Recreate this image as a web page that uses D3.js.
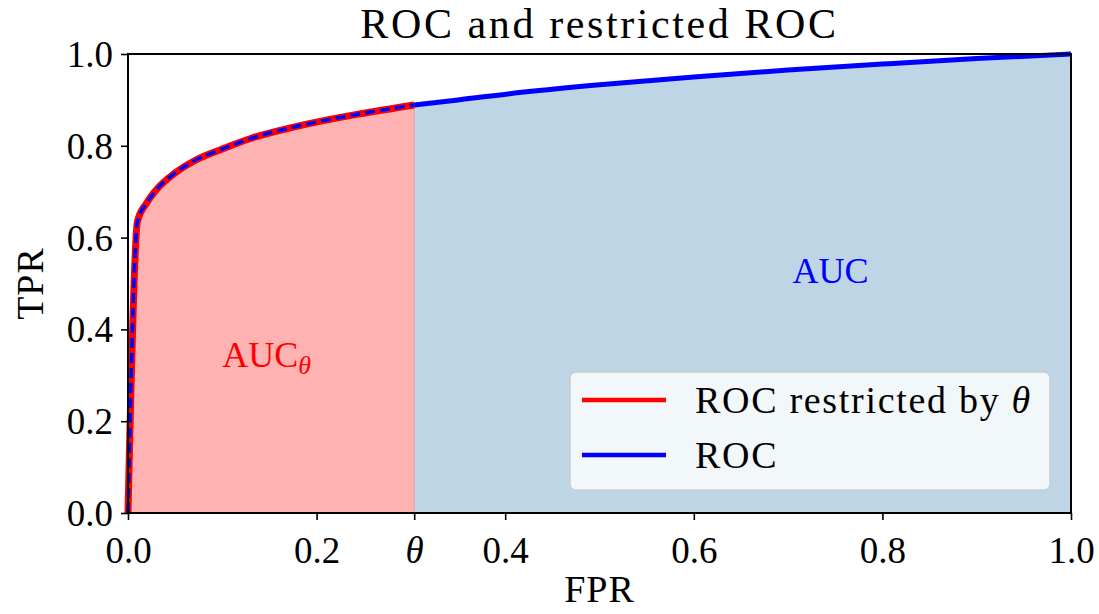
<!DOCTYPE html>
<html>
<head>
<meta charset="utf-8">
<script src="https://cdn.jsdelivr.net/npm/d3@7/dist/d3.min.js"></script>
<style>
  html, body { margin: 0; padding: 0; background: #fff; }
  svg { display: block; }
  text { font-family: "Liberation Serif", "Times New Roman", serif; fill: #000; }
</style>
</head>
<body>
<svg id="chart" width="1099" height="614"></svg>
<script>
// ROC curve samples (false positive rate, true positive rate)
const fpr = [0, 0.01, 0.02, 0.03, 0.05, 0.07, 0.10, 0.13, 0.17, 0.21, 0.25, 0.3035, 0.35, 0.42, 0.5, 0.6, 0.7, 0.8, 0.9, 1.0];
const tpr = [0, 0.635, 0.676, 0.704, 0.741, 0.767, 0.793, 0.816, 0.838, 0.856, 0.871, 0.889, 0.900, 0.917, 0.933, 0.950, 0.965, 0.978, 0.990, 1.0];
// FPR threshold for the restricted curve
const theta = 0.3035;
const xTickValues = [0, 0.2, theta, 0.4, 0.6, 0.8, 1.0];
const xTickLabels = ["0.0", "0.2", "θ", "0.4", "0.6", "0.8", "1.0"];
const yTickValues = [0, 0.2, 0.4, 0.6, 0.8, 1.0];
const yTickLabels = ["0.0", "0.2", "0.4", "0.6", "0.8", "1.0"];
const legendLabels = ["ROC restricted by ", "ROC"];

const svg = d3.select("#chart");
const margin = { left: 128, right: 28, top: 54, bottom: 101 };
const W = 1099, H = 614;
const x = d3.scaleLinear().domain([0, 1]).range([margin.left, W - margin.right]);
const y = d3.scaleLinear().domain([0, 1]).range([H - margin.bottom, margin.top]);

const pts = fpr.map((f, i) => ({ f, t: tpr[i] }));
const restricted = pts.filter(d => d.f <= theta);
const rest = pts.filter(d => d.f >= theta);
const tprAtTheta = tpr[fpr.indexOf(theta)];

const area = d3.area().x(d => x(d.f)).y0(y(0)).y1(d => y(d.t)).curve(d3.curveMonotoneX);
const line = d3.line().x(d => x(d.f)).y(d => y(d.t)).curve(d3.curveMonotoneX);

// shaded areas
svg.append("path").datum(rest).attr("d", area).attr("fill", "rgb(190,213,230)");
svg.append("path").datum(restricted).attr("d", area).attr("fill", "rgb(255,178,178)");
svg.append("line")
  .attr("x1", x(theta)).attr("x2", x(theta))
  .attr("y1", y(0)).attr("y2", y(tprAtTheta))
  .attr("stroke", "rgb(214,168,178)").attr("stroke-width", 1.2);

// curves
svg.append("path").datum(rest).attr("d", line)
  .attr("fill", "none").attr("stroke", "#0000ff").attr("stroke-width", 5);
svg.append("path").datum(restricted).attr("d", line)
  .attr("fill", "none").attr("stroke", "#ff0000").attr("stroke-width", 7)
  .attr("stroke-linejoin", "round");
svg.append("path").datum(restricted).attr("d", line)
  .attr("fill", "none").attr("stroke", "#0000ff").attr("stroke-width", 3.5)
  .attr("stroke-dasharray", "10,5");

// area labels
svg.append("text").attr("x", x(0.745)).attr("y", y(0.5) - 0.5)
  .attr("text-anchor", "middle").style("font-size", "36px").style("fill", "#0000ff").text("AUC");
const aucT = svg.append("text").attr("x", x(0.1)).attr("y", y(0.5) + 83)
  .style("font-size", "36px").style("fill", "#ff0000");
aucT.append("tspan").text("AUC");
aucT.append("tspan").attr("dy", 7).style("font-size", "26px").style("font-style", "italic").text("θ");

// axes
const xAxis = d3.axisBottom(x).tickValues(xTickValues)
  .tickFormat((d, i) => xTickLabels[i]).tickSize(7).tickPadding(8);
const yAxis = d3.axisLeft(y).tickValues(yTickValues)
  .tickFormat((d, i) => yTickLabels[i]).tickSize(7).tickPadding(8);

const gx = svg.append("g").attr("transform", `translate(0,${y(0)})`).call(xAxis);
const gy = svg.append("g").attr("transform", `translate(${x(0)},0)`).call(yAxis);
[gx, gy].forEach(g => {
  g.select(".domain").remove();
  g.selectAll(".tick line").attr("stroke", "#000").attr("stroke-width", 1.6);
  g.selectAll(".tick text").style("font-size", "37px").style("font-family", "Liberation Serif, serif").attr("fill", "#000");
});
gx.selectAll(".tick text").attr("dy", "0.95em")
  .style("font-style", (d, i) => xTickLabels[i] === "θ" ? "italic" : "normal");
gy.selectAll(".tick text").attr("dy", "0.34em");

// frame
svg.append("rect").attr("x", x(0)).attr("y", y(1))
  .attr("width", x(1) - x(0)).attr("height", y(0) - y(1))
  .attr("fill", "none").attr("stroke", "#000").attr("stroke-width", 2);

// title and axis labels
svg.append("text").attr("x", (x(0) + x(1)) / 2).attr("y", 38)
  .attr("text-anchor", "middle").style("font-size", "42px").style("letter-spacing", "2.6px")
  .text("ROC and restricted ROC");
svg.append("text").attr("x", (x(0) + x(1)) / 2).attr("y", 602)
  .attr("text-anchor", "middle").style("font-size", "38px").style("letter-spacing", "1px").text("FPR");
svg.append("text").attr("transform", `translate(43,${(y(0) + y(1)) / 2}) rotate(-90)`)
  .attr("text-anchor", "middle").style("font-size", "38px").style("letter-spacing", "1px").text("TPR");

// legend
const lg = svg.append("g");
lg.append("rect").attr("x", 570).attr("y", 372).attr("width", 480).attr("height", 118)
  .attr("rx", 6).attr("fill", "rgba(255,255,255,0.8)").attr("stroke", "rgb(204,204,204)").attr("stroke-width", 1.5);
const legColors = ["#ff0000", "#0000ff"];
legendLabels.forEach((lab, i) => {
  const ly = 400 + i * 55;
  lg.append("line").attr("x1", 582).attr("x2", 666).attr("y1", ly).attr("y2", ly)
    .attr("stroke", legColors[i]).attr("stroke-width", 4.5);
  const t = lg.append("text").attr("x", 695).attr("y", ly + 13)
    .style("font-size", "38px").style("letter-spacing", "1.7px");
  t.append("tspan").text(lab);
  if (i === 0) t.append("tspan").style("font-style", "italic").text("θ");
});
</script>
</body>
</html>
